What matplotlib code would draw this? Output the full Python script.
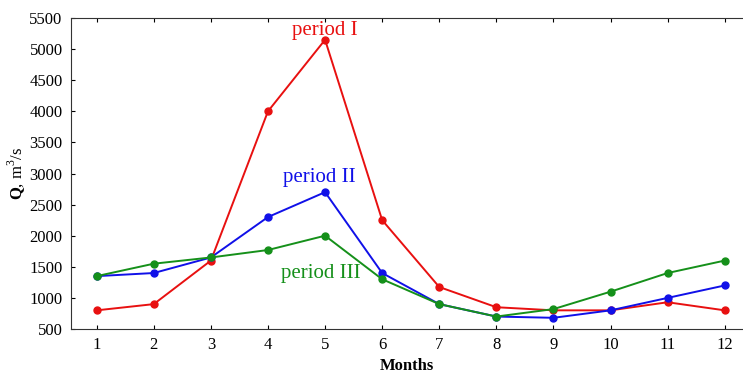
import matplotlib
matplotlib.use("Agg")
import matplotlib.pyplot as plt

months = list(range(1, 13))
period_1 = [800, 900, 1600, 4000, 5150, 2250, 1175, 850, 800, 800, 930, 800]
period_2 = [1350, 1400, 1650, 2300, 2700, 1400, 900, 700, 680, 800, 1000, 1200]
period_3 = [1350, 1550, 1650, 1770, 2000, 1300, 900, 700, 820, 1100, 1400, 1600]
y_ticks = list(range(500, 5501, 500))

plt.rcParams['font.family'] = ['Liberation Serif', 'DejaVu Serif']
plt.rcParams['mathtext.fontset'] = 'custom'
plt.rcParams['mathtext.rm'] = 'Liberation Serif'
plt.rcParams['mathtext.bf'] = 'Liberation Serif:bold'

fig = plt.figure(figsize=(7.43, 3.73), dpi=100)
ax = fig.add_axes([71/743, 1-329/373, 1-71/743, (329-18)/373])

ax.plot(months, period_1, color='#e81010', marker='o', markersize=5, lw=1.4)
ax.plot(months, period_2, color='#1010e8', marker='o', markersize=5, lw=1.4)
ax.plot(months, period_3, color='#15901a', marker='o', markersize=5, lw=1.4)

ax.text(5.0, 5300, 'period I', color='#e81010', fontsize=15, ha='center', va='center')
ax.text(4.9, 2930, 'period II', color='#1010e8', fontsize=15, ha='center', va='center')
ax.text(4.93, 1400, 'period III', color='#15901a', fontsize=15, ha='center', va='center')

ax.set_xlim(0.55, 12.32)
ax.set_ylim(500, 5500)
ax.set_xticks(months)
ax.set_yticks(y_ticks)
ax.tick_params(direction='in', labelsize=12, length=3, pad=6, top=True)
ax.spines['right'].set_visible(False)
for s in ['left', 'bottom', 'top']:
    ax.spines[s].set_color('#333333')

ax.set_xlabel('Months', fontsize=12, fontweight='bold', labelpad=3)
ax.set_ylabel(r'$\mathbf{Q}$, m$^3$/s', fontsize=12, labelpad=1)

fig.savefig('out.png', dpi=100)
